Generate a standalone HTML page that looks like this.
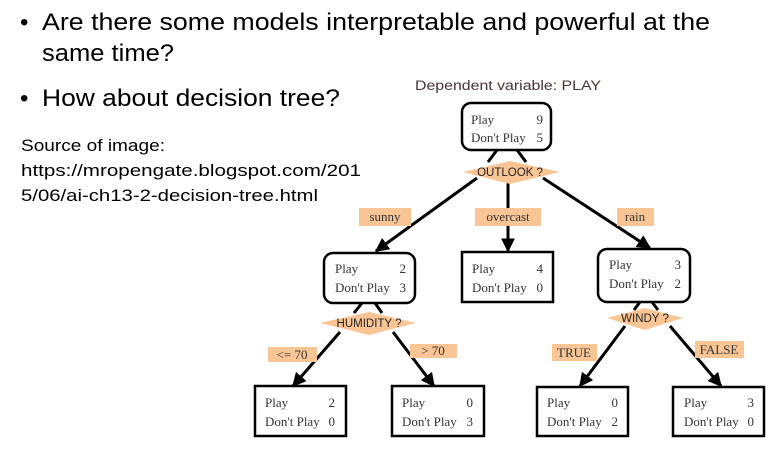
<!DOCTYPE html>
<html><head><meta charset="utf-8"><style>
html,body{margin:0;padding:0;background:#fff;width:782px;height:453px;overflow:hidden}
svg{display:block}
.t{font-family:"Liberation Sans",sans-serif;fill:#000}
.s{font-family:"Liberation Serif",serif;font-size:13px;fill:#333}
.l{font-family:"Liberation Serif",serif;font-size:13px;fill:#333}
.d{font-family:"Liberation Sans",sans-serif;font-size:11.5px;fill:#222}
</style></head><body>
<svg width="782" height="453" viewBox="0 0 782 453" xmlns="http://www.w3.org/2000/svg">
<defs>
<marker id="b" viewBox="0 0 10 10" markerWidth="14" markerHeight="14" refX="9" refY="5" orient="auto" markerUnits="userSpaceOnUse"><path d="M0,0 L10,5 L0,10 z" fill="#000"/></marker></defs>
<text class="t" x="20" y="30" font-size="24">•</text>
<text class="t" x="42" y="30" font-size="24" textLength="668" lengthAdjust="spacingAndGlyphs">Are there some models interpretable and powerful at the</text>
<text class="t" x="42" y="61" font-size="24" textLength="132" lengthAdjust="spacingAndGlyphs">same time?</text>
<text class="t" x="20" y="106" font-size="24">•</text>
<text class="t" x="42" y="106" font-size="24" textLength="298" lengthAdjust="spacingAndGlyphs">How about decision tree?</text>
<text class="t" x="21" y="151" font-size="17" textLength="144" lengthAdjust="spacingAndGlyphs">Source of image:</text>
<text class="t" x="21" y="176" font-size="17" textLength="340" lengthAdjust="spacingAndGlyphs">https://mropengate.blogspot.com/201</text>
<text class="t" x="21" y="201" font-size="17" textLength="297" lengthAdjust="spacingAndGlyphs">5/06/ai-ch13-2-decision-tree.html</text>
<text x="415" y="90" font-family="Liberation Sans,sans-serif" font-size="13.5" fill="#4a3434" textLength="186" lengthAdjust="spacingAndGlyphs">Dependent variable: PLAY</text>

<g stroke="#000" stroke-width="3" fill="none">
<line x1="497" y1="150" x2="488" y2="162"/><line x1="517" y1="150" x2="526" y2="162"/>
<line x1="477" y1="178" x2="376" y2="251" marker-end="url(#b)"/>
<line x1="508" y1="182" x2="508" y2="251" marker-end="url(#b)"/>
<line x1="543" y1="178" x2="650" y2="248" marker-end="url(#b)"/>
<line x1="362" y1="303" x2="354" y2="313"/><line x1="375" y1="303" x2="382" y2="313"/>
<line x1="340" y1="332" x2="293" y2="386" marker-end="url(#b)"/>
<line x1="393" y1="332" x2="434" y2="386" marker-end="url(#b)"/>
<line x1="640" y1="302" x2="634" y2="310"/><line x1="652" y1="302" x2="658" y2="310"/>
<line x1="625" y1="326" x2="580" y2="386" marker-end="url(#b)"/>
<line x1="670" y1="326" x2="721" y2="386" marker-end="url(#b)"/>
</g>
<g fill="#f9c595">
<polygon points="463,172 510,161 560,172 510,184"/>
<polygon points="320,323 369,312 416,323 369,335"/>
<polygon points="607,318 645,308 683,318 645,330"/>
<rect x="359" y="208" width="52" height="18"/>
<rect x="475" y="208" width="66" height="18"/>
<rect x="617" y="208" width="37" height="18"/>
<rect x="268" y="347" width="49" height="15"/>
<rect x="410" y="344" width="47" height="14"/>
<rect x="552" y="344" width="45" height="17"/>
<rect x="695" y="341" width="49" height="17"/>
</g>
<text class="d" x="510" y="176" text-anchor="middle">OUTLOOK ?</text>
<text class="d" x="369" y="327" text-anchor="middle">HUMIDITY ?</text>
<text class="d" x="645" y="322" text-anchor="middle">WINDY ?</text>
<text class="l" x="385" y="221" text-anchor="middle">sunny</text>
<text class="l" x="508" y="221" text-anchor="middle">overcast</text>
<text class="l" x="635" y="221" text-anchor="middle">rain</text>
<text class="l" x="292" y="359" text-anchor="middle">&lt;= 70</text>
<text class="l" x="433" y="355" text-anchor="middle">&gt; 70</text>
<text class="l" x="574" y="357" text-anchor="middle">TRUE</text>
<text class="l" x="719" y="354" text-anchor="middle">FALSE</text>

<g stroke="#000" stroke-width="2.5" fill="#fff">
<rect x="462" y="103" width="89" height="47" rx="9"/>
<rect x="324" y="253" width="91" height="50" rx="9"/>
<rect x="462" y="252" width="91" height="50"/>
<rect x="598" y="249" width="92" height="53" rx="9"/>
<rect x="255" y="386" width="91" height="50"/>
<rect x="392" y="386" width="92" height="50"/>
<rect x="537" y="387" width="91" height="49"/>
<rect x="673" y="387" width="91" height="49"/>
</g>
<g class="s">
<text x="471" y="124">Play</text><text x="543" y="124" text-anchor="end">9</text>
<text x="471" y="142">Don't Play</text><text x="543" y="142" text-anchor="end">5</text>
<text x="335" y="273">Play</text><text x="406" y="273" text-anchor="end">2</text>
<text x="335" y="292">Don't Play</text><text x="406" y="292" text-anchor="end">3</text>
<text x="472" y="273">Play</text><text x="543" y="273" text-anchor="end">4</text>
<text x="472" y="292">Don't Play</text><text x="543" y="292" text-anchor="end">0</text>
<text x="609" y="269">Play</text><text x="681" y="269" text-anchor="end">3</text>
<text x="609" y="288">Don't Play</text><text x="681" y="288" text-anchor="end">2</text>
<text x="265" y="407">Play</text><text x="335" y="407" text-anchor="end">2</text>
<text x="265" y="426">Don't Play</text><text x="335" y="426" text-anchor="end">0</text>
<text x="402" y="407">Play</text><text x="473" y="407" text-anchor="end">0</text>
<text x="402" y="426">Don't Play</text><text x="473" y="426" text-anchor="end">3</text>
<text x="547" y="407">Play</text><text x="618" y="407" text-anchor="end">0</text>
<text x="547" y="426">Don't Play</text><text x="618" y="426" text-anchor="end">2</text>
<text x="684" y="407">Play</text><text x="754" y="407" text-anchor="end">3</text>
<text x="684" y="426">Don't Play</text><text x="754" y="426" text-anchor="end">0</text>
</g>
</svg>
</body></html>
